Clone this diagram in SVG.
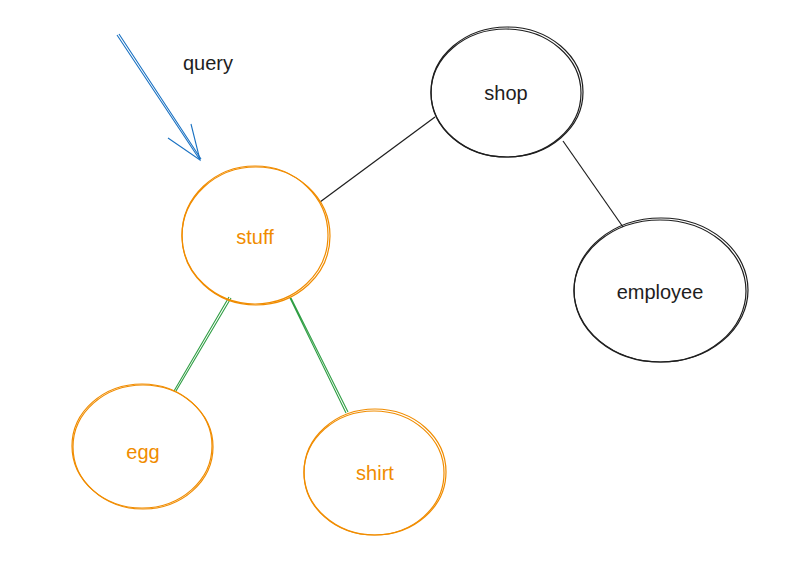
<svg xmlns="http://www.w3.org/2000/svg" width="808" height="563" viewBox="0 0 808 563">
<style>
.bk{fill:none;stroke:#1e1e1e;stroke-width:1.2}
.or{fill:none;stroke:#f08c00;stroke-width:1.2}
.gr{fill:none;stroke:#2f9e44;stroke-width:1.1}
.bl{fill:none;stroke:#1971c2;stroke-width:1.1}
.tb{font-family:"Liberation Sans",Arial,sans-serif;font-size:20px;fill:#1e1e1e;text-anchor:middle;dominant-baseline:central}
.to{font-family:"Liberation Sans",Arial,sans-serif;font-size:20px;fill:#f08c00;text-anchor:middle;dominant-baseline:central}
</style>
<rect width="808" height="563" fill="#ffffff"/>
<g id="connectors">
<path class="bk" d="M435 117 L320 202"/>
<path class="bk" d="M563 141 L623 227"/>
<path class="gr" d="M229 297 L174 391 M231 298 L176 391"/>
<path class="gr" d="M290 298 L346 413 M291 298 L348 412"/>
<g id="query-arrow">
<path class="bl" d="M117 35 L200 160 M119 34 L201 159"/>
<path class="bl" d="M168 138 L200 160 L191 124"/>
</g>
</g>
<text class="tb" x="208" y="63">query</text>
<g id="shop">
<ellipse class="bk" cx="507" cy="92" rx="76" ry="65"/>
<ellipse class="bk" cx="506" cy="93" rx="75" ry="64"/>
<text class="tb" x="506" y="93">shop</text>
</g>
<g id="stuff">
<ellipse class="or" cx="256" cy="236" rx="74" ry="69"/>
<ellipse class="or" cx="255" cy="235" rx="73" ry="69"/>
<text class="to" x="255" y="237">stuff</text>
</g>
<g id="employee">
<ellipse class="bk" cx="661" cy="290" rx="87" ry="72"/>
<ellipse class="bk" cx="660" cy="291" rx="86" ry="71"/>
<text class="tb" x="660" y="292">employee</text>
</g>
<g id="egg">
<ellipse class="or" cx="143" cy="447" rx="70" ry="62"/>
<ellipse class="or" cx="142" cy="446" rx="70" ry="62"/>
<text class="to" x="143" y="452">egg</text>
</g>
<g id="shirt">
<ellipse class="or" cx="375" cy="472" rx="71" ry="63"/>
<ellipse class="or" cx="374" cy="473" rx="70" ry="62"/>
<text class="to" x="375" y="473">shirt</text>
</g>
</svg>
